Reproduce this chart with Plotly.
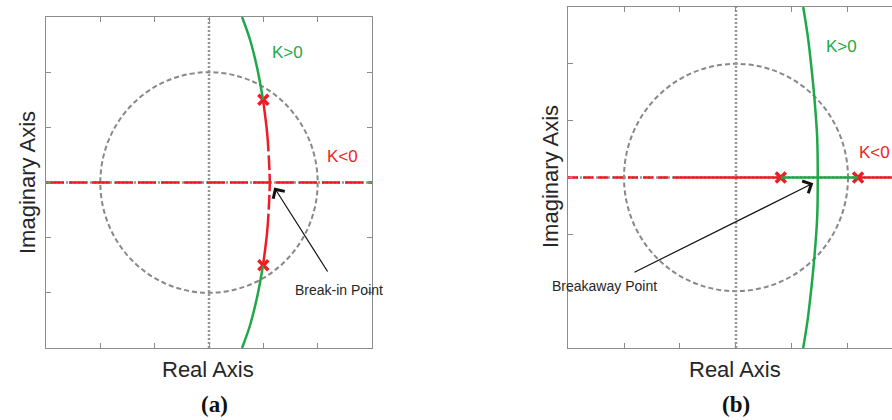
import plotly.graph_objects as go
from plotly.subplots import make_subplots

W, H = 892, 420

# ---- panel (a): complex pole pair, break-in on the real axis ----
a_pole_re = [0.50, 0.50]
a_pole_im = [0.75, -0.75]
a_breakin_re = 0.56
# K>0 branch, upper half (top edge -> pole)
a_green_re = [0.304, 0.377, 0.446, 0.497]
a_green_im = [1.50, 1.296, 1.024, 0.752]
# K<0 branch, upper half (pole -> break-in point)
a_red_re = [0.497, 0.535, 0.552, 0.56]
a_red_im = [0.752, 0.45, 0.20, 0.00]

# ---- panel (b): real pole pair, breakaway from the real axis ----
b_pole_re = [0.40, 1.09]
b_breakaway_re = 0.73
# K>0 branch, upper half (top edge -> breakaway point)
b_green_re = [0.60, 0.64, 0.67, 0.70, 0.725, 0.73]
b_green_im = [1.50, 1.25, 1.00, 0.70, 0.35, 0.00]
# K<0 branches on the real axis
b_red_left_dashed = [-1.50, -0.50]
b_red_left_solid = [-0.50, 0.40]
b_red_right = [1.09, 1.50]

axis_lim = 1.5
b_xmax = 1.393
tick_vals = [-1.5, -1.0, -0.5, 0.0, 0.5, 1.0, 1.5]

GREEN = "#1fa84a"
RED = "#ee1d25"
GRAY = "#888888"
DOT = "#959595"
FRAME = "#8c8c8c"
TEXT = "#262626"

fig = make_subplots(rows=1, cols=2)


def mirror(vals):
    return [-v for v in vals]


def lower(re, im):
    return list(re), mirror(im)


pole_marker = dict(symbol="x-thin", size=10, color=RED, line=dict(color=RED, width=3.5))

# panel (a) traces
fig.add_trace(go.Scatter(x=[-axis_lim, axis_lim], y=[0, 0], mode="lines",
                         line=dict(color=RED, width=2.5, dash="18px,5px")), 1, 1)
for re, im in [(a_red_re, a_red_im), lower(a_red_re, a_red_im)]:
    fig.add_trace(go.Scatter(x=re, y=im, mode="lines",
                             line=dict(color=RED, width=2.5, shape="spline",
                                       dash="52px,4px,15px,4px")), 1, 1)
fig.add_trace(go.Scatter(x=a_pole_re, y=a_pole_im, mode="markers", marker=pole_marker), 1, 1)
for re, im in [(a_green_re, a_green_im), lower(a_green_re, a_green_im)]:
    fig.add_trace(go.Scatter(x=re, y=im, mode="lines",
                             line=dict(color=GREEN, width=2.5, shape="spline")), 1, 1)

# panel (b) traces
fig.add_trace(go.Scatter(x=b_red_left_dashed, y=[0, 0], mode="lines",
                         line=dict(color=RED, width=2.5, dash="10px,5px")), 1, 2)
fig.add_trace(go.Scatter(x=b_red_left_solid, y=[0, 0], mode="lines",
                         line=dict(color=RED, width=2.5)), 1, 2)
fig.add_trace(go.Scatter(x=b_red_right, y=[0, 0], mode="lines",
                         line=dict(color=RED, width=2.5)), 1, 2)
fig.add_trace(go.Scatter(x=b_pole_re, y=[0, 0], mode="markers", marker=pole_marker), 1, 2)
fig.add_trace(go.Scatter(x=b_pole_re, y=[0, 0], mode="lines",
                         line=dict(color=GREEN, width=2.5)), 1, 2)
for re, im in [(b_green_re, b_green_im), lower(b_green_re, b_green_im)]:
    fig.add_trace(go.Scatter(x=re, y=im, mode="lines",
                             line=dict(color=GREEN, width=2.5, shape="spline")), 1, 2)

# unit circle and dotted real/imaginary axes behind the loci
for xr, yr in [("x", "y"), ("x2", "y2")]:
    fig.add_shape(type="circle", xref=xr, yref=yr, x0=-1, x1=1, y0=-1, y1=1,
                  line=dict(color=GRAY, width=2, dash="5px,3px"), layer="below")
    fig.add_shape(type="line", xref=xr, yref=yr, x0=0, x1=0, y0=-axis_lim, y1=axis_lim,
                  line=dict(color=DOT, width=2.5, dash="2px,2px"), layer="below")
    fig.add_shape(type="line", xref=xr, yref=yr, x0=-axis_lim, x1=axis_lim, y0=0, y1=0,
                  line=dict(color=DOT, width=2.5, dash="2px,2px"), layer="below")

common = dict(showgrid=False, zeroline=False, showticklabels=False,
              ticks="inside", ticklen=5, tickcolor=FRAME, tickwidth=1,
              showline=True, linecolor=FRAME, linewidth=1,
              tickmode="array", tickvals=tick_vals)

fig.update_xaxes(common, row=1, col=1, range=[-axis_lim, axis_lim],
                 domain=[46 / W, 372 / W], mirror="ticks")
fig.update_yaxes(common, row=1, col=1, range=[-axis_lim, axis_lim],
                 domain=[(H - 348) / H, (H - 17) / H], mirror="ticks")
fig.update_xaxes(common, row=1, col=2, range=[-axis_lim, b_xmax],
                 domain=[568 / W, 1.0], mirror="ticks")
fig.update_yaxes(common, row=1, col=2, range=[-axis_lim, axis_lim],
                 domain=[(H - 348) / H, (H - 7) / H], mirror=False)


def px(xp):
    return xp / W


def py(yp):
    return (H - yp) / H


def label(text, xp, yp, size, color, family, xanchor="center", angle=0):
    return dict(text=text, x=px(xp), y=py(yp), xref="paper", yref="paper",
                xanchor=xanchor, yanchor="middle", textangle=angle, showarrow=False,
                font=dict(family=family, size=size, color=color))


sans = "Liberation Sans, Arial, sans-serif"
serif = "Liberation Serif, serif"
ann = []
# axis titles
for cx in (208, 735):
    ann.append(label("Real Axis", cx, 369, 22, TEXT, sans))
for cx, cy in [(27, 183), (551, 177)]:
    ann.append(label("Imaginary Axis", cx, cy, 22, TEXT, sans, angle=-90))
# panel letters
for t, cx in [("(a)", 214), ("(b)", 736)]:
    ann.append(label("<b>" + t + "</b>", cx, 404, 23, "#111111", serif))
# branch labels
for t, c, lx, ly in [("K>0", GREEN, 270, 52), ("K<0", RED, 325, 156),
                     ("K>0", GREEN, 824, 46), ("K<0", RED, 857, 152)]:
    ann.append(label(t, lx, ly, 17, c, sans, xanchor="left"))
# point callouts
ann.append(label("Break-in Point", 293, 290, 14, TEXT, sans, xanchor="left"))
ann.append(label("Breakaway Point", 550, 286, 14, TEXT, sans, xanchor="left"))
ann.append(dict(text="", x=a_breakin_re + 0.04, y=-0.045, xref="x", yref="y",
                ax=1.10, ay=-0.82, axref="x", ayref="y", showarrow=True,
                arrowhead=4, arrowsize=2.2, arrowwidth=1.2, arrowcolor="#111111", standoff=0))
ann.append(dict(text="", x=b_breakaway_re - 0.04, y=-0.05, xref="x2", yref="y2",
                ax=-0.92, ay=-0.84, axref="x2", ayref="y2", showarrow=True,
                arrowhead=4, arrowsize=2.2, arrowwidth=1.2, arrowcolor="#111111", standoff=0))

fig.update_layout(width=W, height=H, margin=dict(l=0, r=0, t=0, b=0),
                  paper_bgcolor="white", plot_bgcolor="white",
                  showlegend=False, annotations=ann)

fig.write_html("out.html")
